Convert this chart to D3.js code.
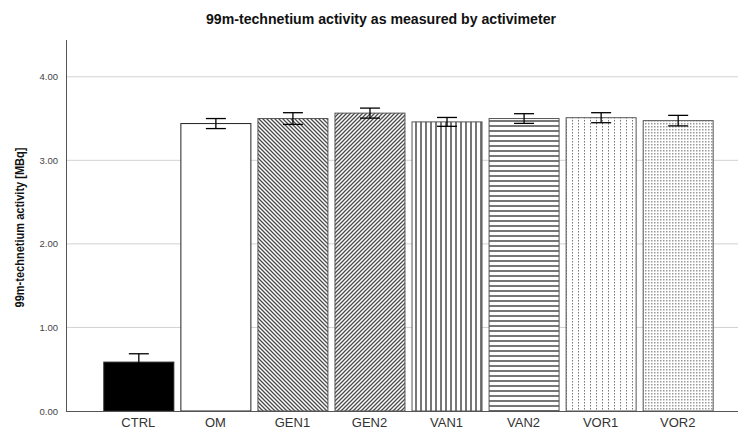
<!DOCTYPE html>
<html>
<head>
<meta charset="utf-8">
<script src="https://cdn.jsdelivr.net/npm/d3@7"></script>
<style>
  html, body { margin: 0; padding: 0; background: #fff; }
  svg { display: block; font-family: Arial, "Liberation Sans", sans-serif; }
</style>
</head>
<body>
<svg id="chart" width="739" height="432"></svg>
<script>
// Mean activity per group and its error (± half-width of the error bar)
const categories = ["CTRL", "OM", "GEN1", "GEN2", "VAN1", "VAN2", "VOR1", "VOR2"];
const means = [0.585, 3.44, 3.50, 3.565, 3.46, 3.50, 3.51, 3.475];
const errors = [0.10, 0.06, 0.07, 0.06, 0.053, 0.058, 0.06, 0.063];
const yTicks = [0, 1, 2, 3, 4];

const title = "99m-technetium activity as measured by activimeter";
const yLabel = "99m-technetium activity [MBq]";

// Fill for each bar (solid or hatch pattern id)
const fills = ["#000", "#fff", "url(#p-back)", "url(#p-fwd)", "url(#p-vert)",
               "url(#p-horiz)", "url(#p-dotcol)", "url(#p-dots)"];

const svg = d3.select("#chart");
const defs = svg.append("defs");

function pattern(id, w, h, draw) {
  const p = defs.append("pattern").attr("id", id)
    .attr("patternUnits", "userSpaceOnUse").attr("width", w).attr("height", h);
  p.append("rect").attr("width", w).attr("height", h).attr("fill", "#fff");
  draw(p);
}
// diagonal "\\" hatch
pattern("p-back", 4, 4, p => {
  p.append("path").attr("d", "M-1,-1 L5,5 M-1,3 L1,5 M3,-1 L5,1")
    .attr("stroke", "#4a4a4a").attr("stroke-width", 1.3);
});
// diagonal "//" hatch
pattern("p-fwd", 4, 4, p => {
  p.append("path").attr("d", "M-1,5 L5,-1 M-1,1 L1,-1 M3,5 L5,3")
    .attr("stroke", "#4a4a4a").attr("stroke-width", 1.3);
});
// vertical lines
pattern("p-vert", 5, 5, p => {
  p.append("rect").attr("x", 0).attr("y", 0).attr("width", 2).attr("height", 5).attr("fill", "#777");
});
// horizontal lines
pattern("p-horiz", 5, 5, p => {
  p.append("rect").attr("x", 0).attr("y", 0).attr("width", 5).attr("height", 2).attr("fill", "#777");
});
// sparse dotted columns
pattern("p-dotcol", 6, 3, p => {
  p.append("rect").attr("x", 2).attr("y", 0).attr("width", 1).attr("height", 1.5).attr("fill", "#777");
});
// fine dot grid
pattern("p-dots", 3, 3, p => {
  p.append("rect").attr("x", 0).attr("y", 0).attr("width", 1.5).attr("height", 1.5).attr("fill", "#999");
});

const x0 = 66, x1 = 738, yTop = 40, yBase = 411;

const x = d3.scaleBand().domain(categories).range([99.8, 716.2])
  .paddingInner(0.0916).paddingOuter(0.0458);
const y = d3.scaleLinear().domain([0, 4.44]).range([yBase, yTop]);

// title
svg.append("text").attr("x", 381).attr("y", 24).attr("text-anchor", "middle")
  .attr("font-size", 14).attr("font-weight", "bold").attr("fill", "#111")
  .attr("textLength", 350).attr("lengthAdjust", "spacingAndGlyphs").text(title);

// gridlines
svg.append("g").selectAll("line").data(yTicks.filter(d => d > 0)).join("line")
  .attr("x1", x0).attr("x2", x1).attr("y1", d => y(d)).attr("y2", d => y(d))
  .attr("stroke", "#d2d2d2").attr("stroke-width", 1);

// y axis
const yAxis = svg.append("g").attr("transform", `translate(${x0},0)`)
  .call(d3.axisLeft(y).tickValues(yTicks).tickFormat(d3.format(".2f")).tickSize(0).tickPadding(8));
yAxis.select(".domain").remove();
yAxis.selectAll("text").attr("font-size", 9.5).attr("fill", "#444")
  .attr("font-family", "Arial, 'Liberation Sans', sans-serif");
svg.append("line").attr("x1", x0 + 0.5).attr("x2", x0 + 0.5).attr("y1", yTop).attr("y2", yBase)
  .attr("stroke", "#555").attr("stroke-width", 1);

// y label
svg.append("text").attr("transform", `translate(24,${(yTop + yBase) / 2 + 2}) rotate(-90)`)
  .attr("text-anchor", "middle").attr("font-size", 12).attr("font-weight", "bold")
  .attr("fill", "#111").attr("textLength", 160).attr("lengthAdjust", "spacingAndGlyphs")
  .text(yLabel);

// bars
svg.append("g").selectAll("rect").data(categories).join("rect")
  .attr("x", d => x(d) + 0.5).attr("width", x.bandwidth())
  .attr("y", (d, i) => y(means[i])).attr("height", (d, i) => yBase - y(means[i]))
  .attr("fill", (d, i) => fills[i])
  .attr("stroke", (d, i) => i < 2 ? "#222" : "#555").attr("stroke-width", 1);

// x axis
svg.append("line").attr("x1", x0).attr("x2", x1).attr("y1", yBase + 0.5).attr("y2", yBase + 0.5)
  .attr("stroke", "#555").attr("stroke-width", 1);
const xAxis = svg.append("g").attr("transform", `translate(0,${yBase})`)
  .call(d3.axisBottom(x).tickSize(0).tickPadding(7));
xAxis.select(".domain").remove();
xAxis.selectAll("text").attr("font-size", 13).attr("fill", "#333")
  .attr("font-family", "Arial, 'Liberation Sans', sans-serif");

// error bars
const eb = svg.append("g").attr("stroke", "#000").attr("stroke-width", 1.3).attr("fill", "none");
categories.forEach((c, i) => {
  const cx = x(c) + x.bandwidth() / 2 + 0.5;
  const hi = y(means[i] + errors[i]), lo = y(means[i] - errors[i]);
  eb.append("line").attr("x1", cx).attr("x2", cx).attr("y1", hi).attr("y2", lo);
  eb.append("line").attr("x1", cx - 10).attr("x2", cx + 10).attr("y1", hi).attr("y2", hi);
  if (i !== 0) eb.append("line").attr("x1", cx - 10).attr("x2", cx + 10).attr("y1", lo).attr("y2", lo);
});
</script>
</body>
</html>
